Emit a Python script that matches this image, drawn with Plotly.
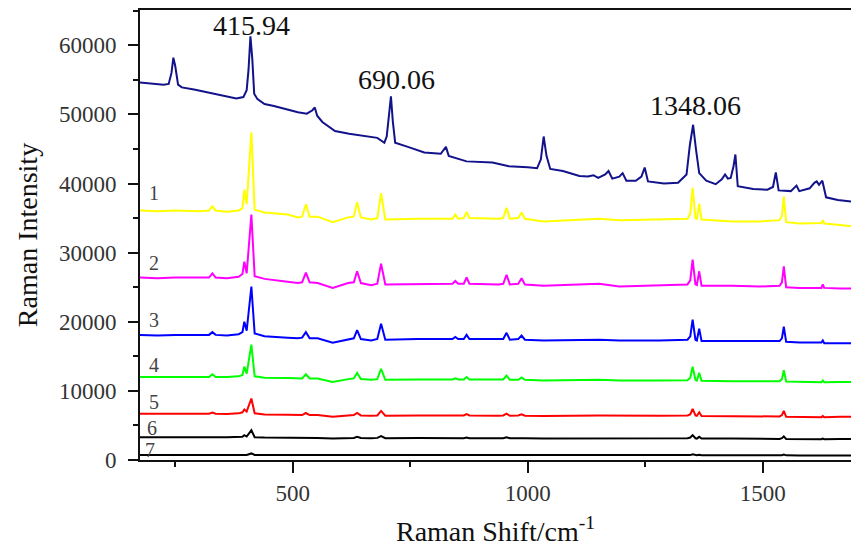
import plotly.graph_objects as go

# ---------------- data ----------------
x_top = [175, 200, 225, 236, 242, 246, 250, 256, 264, 290, 330, 360, 380, 395, 402, 406, 410, 414, 418, 425,
         440, 460, 489, 511, 530, 542, 547, 552, 563, 590, 620, 650, 680, 695, 700, 705, 709, 713, 718, 745,
         780, 815, 826, 832, 870, 925, 960, 1000, 1020, 1028, 1034, 1040, 1048, 1075, 1110, 1128, 1140, 1150,
         1165, 1172, 1180, 1195, 1202, 1210, 1230, 1242, 1249, 1256, 1290, 1320, 1338, 1345, 1352, 1358, 1365,
         1380, 1400, 1413, 1420, 1426, 1432, 1438, 1442, 1447, 1480, 1510, 1522, 1528, 1534, 1560, 1572, 1578,
         1600, 1610, 1615, 1620, 1627, 1635, 1660, 1688]
y_top = [54600, 54500, 54300, 54400, 56000, 58200, 57000, 54300, 53900, 53600, 53000, 52500, 52300, 52500,
         53500, 56500, 61300, 58000, 53000, 52200, 51500, 51200, 50700, 50300, 50100, 50600, 51000, 49800,
         48900, 47600, 47200, 46900, 46600, 45900, 46800, 50000, 52600, 49000, 45900, 45300, 44500, 44300,
         45300, 44000, 43200, 43050, 42500, 42350, 42200, 43500, 46800, 44000, 42100, 41800, 41100, 41000,
         41200, 40800, 41300, 41800, 40700, 41000, 41500, 40400, 40400, 41000, 42300, 40300, 40000, 40100,
         41300, 45500, 48500, 45000, 41500, 40400, 39900, 40600, 41300, 40700, 40800, 42500, 44200, 39600,
         39200, 39100, 39500, 41600, 39000, 38900, 39700, 38900, 39300, 40100, 40300, 39800, 40400, 38000,
         37600, 37400]

x_shift = [175, 212, 250, 300, 322, 329, 336, 360, 385, 393, 397, 402, 412, 419, 440, 489, 511, 520, 528, 536,
           553, 585, 618, 630, 637, 645, 667, 680, 688, 697, 767, 840, 846, 852, 864, 870, 876, 938, 948, 955,
           962, 980, 987, 994, 1034, 1152, 1195, 1280, 1340, 1346, 1351, 1357, 1360, 1365, 1370, 1436, 1494,
           1536, 1541, 1545, 1550, 1579, 1625, 1628, 1631, 1665, 1688]

y_s1 = [36100, 36000, 36100, 36000, 36100, 36700, 36100, 35900, 36100, 36400, 39100, 37000, 47400, 36200,
        35800, 35500, 35100, 35200, 37000, 35200, 35200, 34400, 35100, 35200, 37300, 35100, 34800, 35000,
        38600, 34800, 34900, 34900, 35500, 34900, 35000, 35900, 35000, 34900, 35000, 36500, 34900, 35000,
        35800, 34900, 34500, 34900, 34700, 34800, 34900, 35600, 39400, 35000, 34800, 37100, 34800, 34500,
        34500, 34700, 35300, 38100, 34400, 34200, 34300, 34700, 34200, 34000, 33800]
y_s2 = [26400, 26300, 26400, 26400, 26400, 27000, 26400, 26300, 26500, 26900, 28700, 27000, 35500, 26600,
        26200, 25800, 25600, 25700, 27100, 25700, 25600, 24900, 25600, 25700, 27300, 25600, 25300, 25500,
        28400, 25400, 25500, 25500, 25900, 25500, 25500, 26400, 25500, 25400, 25500, 26800, 25400, 25500,
        26300, 25400, 25200, 25500, 25100, 25300, 25400, 26000, 29000, 25400, 25300, 27300, 25200, 25200,
        25100, 25200, 25700, 28000, 25000, 24900, 24900, 25400, 24900, 24800, 24800]
y_s3 = [18100, 18000, 18100, 18100, 18100, 18500, 18100, 18000, 18200, 18500, 20000, 18700, 25100, 18300,
        17900, 17700, 17600, 17700, 18500, 17600, 17600, 16950, 17500, 17600, 18800, 17500, 17300, 17500,
        19700, 17400, 17500, 17500, 17800, 17500, 17500, 18100, 17500, 17500, 17500, 18400, 17400, 17500,
        18000, 17400, 17300, 17400, 17300, 17300, 17400, 17900, 20300, 17400, 17300, 19000, 17200, 17200,
        17200, 17200, 17600, 19300, 17100, 17000, 17000, 17300, 16900, 16900, 16900]
y_s4 = [12000, 12000, 12000, 12000, 12000, 12400, 12000, 12000, 12100, 12300, 13500, 12500, 16700, 12100,
        11900, 11850, 11800, 11800, 12400, 11800, 11800, 11300, 11700, 11800, 12600, 11700, 11600, 11700,
        13200, 11600, 11650, 11650, 11800, 11650, 11650, 12000, 11650, 11600, 11650, 12200, 11600, 11600,
        11950, 11600, 11500, 11600, 11500, 11500, 11550, 11900, 13500, 11600, 11500, 12600, 11450, 11400,
        11400, 11400, 11700, 13000, 11350, 11300, 11250, 11500, 11250, 11300, 11300]
y_s5 = [6700, 6650, 6700, 6700, 6700, 6850, 6700, 6650, 6750, 6900, 7300, 7000, 8900, 6750, 6600, 6550,
        6500, 6500, 6800, 6500, 6500, 6250, 6450, 6500, 6800, 6450, 6400, 6450, 7100, 6400, 6450, 6450, 6550,
        6450, 6450, 6650, 6450, 6400, 6450, 6700, 6400, 6450, 6600, 6400, 6350, 6450, 6400, 6400, 6450, 6600,
        7400, 6450, 6400, 6900, 6350, 6350, 6300, 6300, 6500, 7100, 6250, 6200, 6200, 6350, 6200, 6250, 6250]
y_s6 = [3300, 3300, 3300, 3300, 3300, 3400, 3300, 3280, 3300, 3350, 3600, 3400, 4300, 3300, 3250, 3250,
        3200, 3200, 3300, 3200, 3200, 3100, 3200, 3200, 3350, 3200, 3150, 3200, 3450, 3150, 3200, 3150, 3200,
        3150, 3150, 3250, 3150, 3150, 3150, 3300, 3150, 3150, 3200, 3150, 3100, 3150, 3100, 3100, 3150, 3250,
        3600, 3150, 3100, 3350, 3100, 3100, 3050, 3050, 3150, 3400, 3050, 3000, 3000, 3100, 3000, 3050, 3050]
y_s7 = [720, 720, 720, 720, 720, 730, 720, 720, 720, 730, 780, 740, 950, 720, 710, 710, 700, 700, 720, 700,
        700, 690, 700, 700, 720, 700, 690, 700, 730, 690, 700, 690, 700, 690, 690, 700, 690, 690, 690, 710,
        690, 690, 700, 690, 680, 690, 680, 680, 690, 710, 820, 690, 680, 740, 680, 680, 670, 670, 690, 780,
        670, 660, 660, 680, 660, 660, 660]

series_labels = ["1", "2", "3", "4", "5", "6", "7"]
label_x = [205, 205, 205, 205, 205, 200, 197]
label_y = [38600, 28500, 20300, 13750, 8400, 4650, 1450]

peak_labels = ["415.94", "690.06", "1348.06"]
peak_label_x = [412, 720, 1357]
peak_label_y = [62800, 55100, 51300]

# ---------------- figure ----------------
fig = go.Figure()
fig.add_trace(go.Scatter(x=x_top, y=y_top, mode="lines", line=dict(color="#12128a", width=2), showlegend=False))
stack = [(y_s1, "#ffff00"), (y_s2, "#ff00ff"), (y_s3, "#0000ff"), (y_s4, "#00ff00"),
         (y_s5, "#ff0000"), (y_s6, "#000000"), (y_s7, "#000000")]
for ys, col in stack:
    fig.add_trace(go.Scatter(x=x_shift, y=ys, mode="lines", line=dict(color=col, width=2), showlegend=False))

serif = "Liberation Serif"
for t, xx, yy in zip(series_labels, label_x, label_y):
    fig.add_annotation(x=xx, y=yy, text=t, showarrow=False, xanchor="center", yanchor="middle",
                       font=dict(family=serif, size=20, color="#444444"))
for t, xx, yy in zip(peak_labels, peak_label_x, peak_label_y):
    fig.add_annotation(x=xx, y=yy, text=t, showarrow=False, xanchor="center", yanchor="middle",
                       font=dict(family=serif, size=28, color="#111111"))

fig.update_layout(
    width=851, height=547,
    margin=dict(l=140, r=0, t=10, b=87),
    paper_bgcolor="white", plot_bgcolor="white",
    font=dict(family=serif, color="#222222", size=23),
    xaxis=dict(range=[175, 1688], tickvals=[500, 1000, 1500], ticks="outside", ticklen=11, tickwidth=2,
               tickcolor="#111", showline=True, linecolor="#111", linewidth=2, mirror=True,
               showgrid=False, zeroline=False,
               minor=dict(tickvals=[250, 750, 1250], ticks="outside", ticklen=5, tickwidth=2, tickcolor="#111"),
               tickfont=dict(size=23, family=serif, color="#333"),
               title=dict(text="Raman Shift/cm<sup>-1</sup>", font=dict(size=28, family=serif, color="#111"),
                          standoff=18)),
    yaxis=dict(range=[0, 65100], tickvals=[0, 10000, 20000, 30000, 40000, 50000, 60000],
               ticktext=["0", "10000", "20000", "30000", "40000", "50000", "60000"],
               ticks="outside", ticklen=10, tickwidth=2, tickcolor="#111", ticklabelstandoff=7,
               showline=True, linecolor="#111", linewidth=2, showgrid=False, zeroline=False,
               minor=dict(dtick=5000, ticks="outside", ticklen=5, tickwidth=2, tickcolor="#111"),
               tickfont=dict(size=23, family=serif, color="#333"),
               title=dict(text="Raman Intensity", font=dict(size=28, family=serif, color="#111"), standoff=13)),
)

fig.write_html("out.html")
